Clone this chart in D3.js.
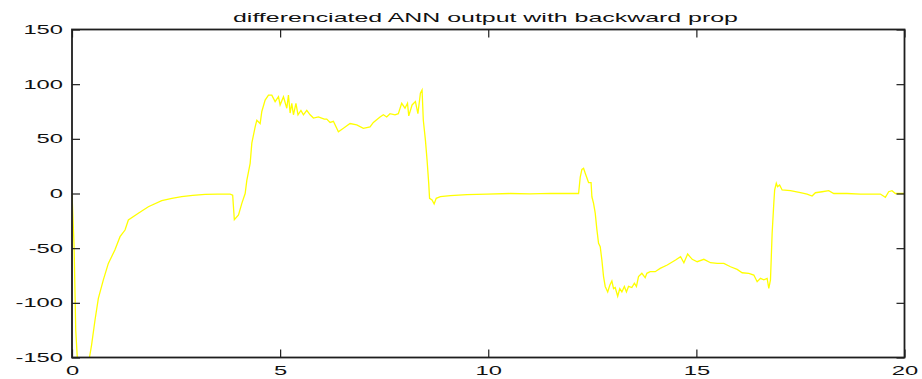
<!DOCTYPE html>
<html>
<head>
<meta charset="utf-8">
<script src="https://cdn.jsdelivr.net/npm/d3@7"></script>
<style>
  html, body { margin: 0; padding: 0; background: #ffffff; }
  svg { display: block; }
  text { font-family: "Liberation Sans", Arial, Helvetica, sans-serif; fill: #111; }
</style>
</head>
<body>
<svg id="chart" width="922" height="379"></svg>
<script>
// Time axis (s) and differentiated network output sampled along the trace
const timeS = [
  0, 0.05, 0.09, 0.127, 0.18, 0.26, 0.35, 0.42, 0.47, 0.553, 0.633, 0.753, 0.873, 1.03, 1.154, 1.274,
  1.354, 1.594, 1.834, 2.156, 2.4, 2.636, 2.9, 3.197, 3.5, 3.8, 3.86, 3.9, 4.0, 4.08, 4.16, 4.2,
  4.28, 4.32, 4.4, 4.44, 4.52, 4.56, 4.64, 4.72, 4.8, 4.88, 4.96, 5.0, 5.08, 5.16, 5.2, 5.24,
  5.28, 5.32, 5.38, 5.43, 5.5, 5.56, 5.64, 5.72, 5.8, 5.92, 6.06, 6.12, 6.2, 6.28, 6.4, 6.52,
  6.68, 6.84, 7.0, 7.16, 7.24, 7.4, 7.48, 7.56, 7.64, 7.76, 7.84, 7.92, 8.0, 8.06, 8.09, 8.17,
  8.25, 8.31, 8.37, 8.41, 8.44, 8.49, 8.53, 8.57, 8.59, 8.65, 8.70, 8.75, 8.85, 9.09, 9.49, 9.97,
  10.53, 11.0, 11.5, 12.0, 12.17, 12.21, 12.25, 12.29, 12.33, 12.41, 12.47, 12.49, 12.53, 12.57, 12.61, 12.65,
  12.69, 12.73, 12.77, 12.81, 12.87, 12.92, 12.97, 13.01, 13.05, 13.11, 13.16, 13.21, 13.27, 13.32, 13.37, 13.45,
  13.51, 13.56, 13.61, 13.69, 13.77, 13.81, 13.89, 14.01, 14.13, 14.3, 14.5, 14.62, 14.7, 14.79, 14.9, 15.02,
  15.18, 15.34, 15.5, 15.66, 15.82, 15.98, 16.1, 16.26, 16.38, 16.46, 16.54, 16.62, 16.7, 16.74, 16.78, 16.8,
  16.82, 16.86, 16.88, 16.92, 16.95, 17.0, 17.06, 17.26, 17.5, 17.66, 17.78, 17.86, 18.02, 18.18, 18.3, 18.62,
  18.94, 19.42, 19.54, 19.62, 19.7, 19.78, 19.9, 20
];
const outputVal = [
  0, -48, -125, -150, -178, -192, -178, -150, -138.6, -115.7, -95.9, -79, -63.9, -51.7, -39.5, -33.4,
  -24.2, -18.1, -12.1, -6.6, -4.5, -2.9, -1.8, -0.8, -0.6, -0.5, -1.5, -24, -19.7, -9, 0, 12,
  27.6, 46, 61, 67, 64, 75, 85.5, 90, 90, 84, 88.5, 81, 88.5, 78, 90, 73.6,
  82.5, 72, 82.5, 72, 76, 72, 76, 72, 69, 70, 68, 68, 65, 66, 56.5, 59.6,
  64, 62.7, 59.6, 61, 65, 70, 72, 70, 73, 72, 73, 82.5, 78, 82.5, 71, 81,
  84, 73, 91.7, 94.7, 67, 49, 30.6, 9.3, -4.4, -6, -9.6, -4.4, -2.9, -2, -1, -0.5,
  0, -0.3, 0.2, 0, 0, 15, 22, 23, 18.5, 10, 10, -3, -9, -18, -33, -45.6,
  -48.7, -61, -76, -85, -90, -84, -80, -87, -86, -94, -87, -90, -85, -90, -85, -86,
  -82, -85, -76, -73, -77, -73, -71.5, -71.5, -68.5, -65.4, -60.8, -57.8, -63.3, -55.4, -60.2, -62.4,
  -60.2, -63.3, -63.9, -63.9, -67, -69.4, -72.5, -73, -74.6, -80.7, -77.6, -79, -77.6, -86.7, -79, -58,
  -36.5, -9, 3, 9.3, 6.2, 7.8, 3.2, 2.6, 0.7, -0.5, -2.3, 0.7, 1.6, 2.6, 0, 0,
  -0.5, -0.5, -3.5, 1.6, 2.6, 0, 0, 0
];
const xTicks = [0, 5, 10, 15, 20];
const yTicks = [-150, -100, -50, 0, 50, 100, 150];
const chartTitle = "differenciated ANN output with backward prop";

const svg = d3.select("#chart");
const plotLeft = 72, plotRight = 904.5, plotTop = 29.5, plotBottom = 357.5;
const stretch = 1.9;   // wide, horizontally stretched lettering

const x = d3.scaleLinear().domain([0, 20]).range([plotLeft, plotRight]);
const y = d3.scaleLinear().domain([-150, 150]).range([plotBottom, plotTop]);

// plot clip so the trace is cut at the frame
svg.append("defs").append("clipPath").attr("id", "plotClip")
  .append("rect").attr("x", plotLeft).attr("y", plotTop)
  .attr("width", plotRight - plotLeft).attr("height", plotBottom - plotTop);

const series = timeS.map((t, i) => [t, outputVal[i]]);
svg.append("path")
  .datum(series)
  .attr("clip-path", "url(#plotClip)")
  .attr("fill", "none")
  .attr("stroke", "#ffff00")
  .attr("stroke-width", 1.3)
  .attr("stroke-linejoin", "miter")
  .attr("d", d3.line().x(d => x(d[0])).y(d => y(d[1])));

const axisColor = "#1e1e1e";
function styleAxis(g) {
  g.select(".domain").remove();
  g.selectAll(".tick line").attr("stroke", axisColor).attr("stroke-width", 1.2);
}

// bottom axis with labels
svg.append("g").attr("transform", `translate(0,${plotBottom})`)
  .call(d3.axisBottom(x).tickValues(xTicks).tickSizeInner(-8).tickSizeOuter(0).tickFormat(d => String(d)))
  .call(styleAxis)
  .call(g => g.selectAll(".tick text")
    .attr("x", 0).attr("y", 0).attr("dy", null)
    .attr("transform", `translate(0,17) scale(${stretch},1)`)
    .attr("font-size", 12.5).attr("fill", "#111"));

// left axis with labels
svg.append("g").attr("transform", `translate(${plotLeft},0)`)
  .call(d3.axisLeft(y).tickValues(yTicks).tickSizeInner(-8).tickSizeOuter(0).tickFormat(d => String(d)))
  .call(styleAxis)
  .call(g => g.selectAll(".tick text")
    .attr("x", 0)
    .attr("transform", `translate(-9,0) scale(${stretch},1)`)
    .attr("font-size", 12.5).attr("fill", "#111"));

// mirrored ticks on top and right edges
svg.append("g").attr("transform", `translate(0,${plotTop})`)
  .call(d3.axisTop(x).tickValues(xTicks).tickSizeInner(-8).tickSizeOuter(0).tickFormat(""))
  .call(styleAxis);
svg.append("g").attr("transform", `translate(${plotRight},0)`)
  .call(d3.axisRight(y).tickValues(yTicks).tickSizeInner(-8).tickSizeOuter(0).tickFormat(""))
  .call(styleAxis);

// frame
svg.append("rect")
  .attr("x", plotLeft).attr("y", plotTop)
  .attr("width", plotRight - plotLeft).attr("height", plotBottom - plotTop)
  .attr("fill", "none").attr("stroke", axisColor).attr("stroke-width", 1.8);

// title
svg.append("text")
  .attr("x", 233).attr("y", 21.5)
  .attr("font-size", 13.5)
  .attr("textLength", 505)
  .attr("lengthAdjust", "spacingAndGlyphs")
  .text(chartTitle);
</script>
</body>
</html>
